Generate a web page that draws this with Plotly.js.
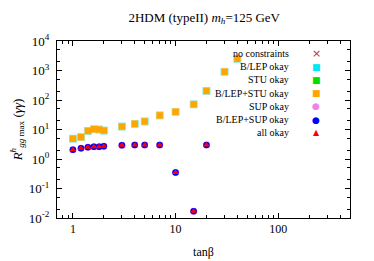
<!DOCTYPE html>
<html><head><meta charset="utf-8">
<script src="https://cdn.plot.ly/plotly-3.0.1.min.js"></script>
<style>body{margin:0;padding:0;background:#fff}#c{width:374px;height:261px}</style>
</head><body><div id="c"></div>
<script>
// tan(beta) values and maximal R (gg -> h -> gamma gamma)
const tanbFull = [1, 1.2, 1.4, 1.6, 1.8, 2, 3, 4, 5, 7, 10, 15, 20, 30, 40];
const rNoConstr = [4.9, 5.5, 9.0, 10.2, 10.0, 9.2, 12.6, 15.6, 18.7, 30, 40, 71, 204, 910, 2500];
const rBLEP = [4.9, 5.5, 9.0, 10.2, 10.0, 9.2, 12.6, 15.6, 18.7, 30, 40, 71, 204, 910, 2500];
const rSTU = [4.9, 5.5, 9.0, 10.2, 10.0, 9.2, 12.6, 15.6, 18.7, 30, 40, 71, 204, 910, 2500];
const rBLEPSTU = [4.9, 5.5, 9.0, 10.2, 10.0, 9.2, 12.6, 15.6, 18.7, 30, 40, 71, 204, 910, 2500];
const tanbSUP = [1, 1.2, 1.4, 1.6, 1.8, 2, 3, 4, 5, 7, 10, 15, 20];
const rSUP = [2.05, 2.3, 2.5, 2.6, 2.6, 2.7, 2.9, 3.0, 3.0, 3.0, 0.35, 0.017, 3.0];
const rBLEPSUP = [2.05, 2.3, 2.5, 2.6, 2.6, 2.7, 2.9, 3.0, 3.0, 3.0, 0.35, 0.017, 3.0];
const rAll = [2.05, 2.3, 2.5, 2.6, 2.6, 2.7, 2.9, 3.0, 3.0, 3.0, 0.35, 0.017, 3.0];
const legendNames = ["no constraints", "B/LEP okay", "STU okay", "B/LEP+STU okay", "SUP okay", "B/LEP+SUP okay", "all okay"];
const legendGlyphs = ["\u00d7", "\u25a0", "\u25a0", "\u25a0", "\u25cf", "\u25cf", "\u25b2"];
const colors = ["#c0303c", "#00e8f0", "#00e000", "#ffa500", "#ee82ee", "#0000ff", "#ff0000"];
const xTickVals = [1, 10, 100];
const xTickText = ["1", "10", "100"];
const yTickVals = [0.01, 0.1, 1, 10, 100, 1000, 10000];
const yTickText = ["10<sup>-2</sup>", "10<sup>-1</sup>", "10<sup>0</sup>", "10<sup>1</sup>", "10<sup>2</sup>", "10<sup>3</sup>", "10<sup>4</sup>"];

const mk = (x, y, sym, col, size, lw, lc) => ({
  type: 'scatter', mode: 'markers', x: x, y: y, showlegend: false, hoverinfo: 'skip',
  marker: {symbol: sym, color: col, size: size, line: {width: lw || 0, color: lc || col}}
});
const traces = [
  mk(tanbFull, rNoConstr, 'x-thin', colors[0], 6, 1.2, colors[0]),
  mk(tanbFull, rBLEP, 'square', colors[1], 7.5),
  mk(tanbFull, rSTU, 'square', '#d0e8b8', 7.5),
  mk(tanbFull, rBLEPSTU, 'square', colors[3], 6.5),
  mk(tanbSUP, rSUP, 'circle', colors[4], 7),
  mk(tanbSUP, rBLEPSUP, 'circle', colors[5], 6.5),
  mk(tanbSUP, rAll, 'triangle-up', colors[6], 6)
];

const serif = "Liberation Serif, Times New Roman, serif";
const ann = [];
const legTop = 53.3, legStep = 13.25;
legendNames.forEach((n, i) => {
  const yp = 1 - (legTop + i * legStep - 41) / 177;
  ann.push({xref: 'paper', yref: 'paper', x: (291 - 57) / 293, y: yp, xanchor: 'right', yanchor: 'middle',
    text: n, showarrow: false, font: {family: serif, size: 10, color: '#000'}});
  ann.push({xref: 'paper', yref: 'paper', x: (316 - 57) / 293, y: yp, xanchor: 'center', yanchor: 'middle',
    text: legendGlyphs[i], showarrow: false,
    font: {family: 'DejaVu Sans', size: legendGlyphs[i] === "\u25b2" ? 8 : (legendGlyphs[i] === "\u00d7" ? 11 : 9), color: colors[i]}});
});

const layout = {
  width: 374, height: 261,
  margin: {l: 57, r: 24, t: 41, b: 43},
  paper_bgcolor: '#fff', plot_bgcolor: '#fff',
  font: {family: serif, size: 12, color: '#000'},
  title: {text: "2HDM (typeII) <i>m<sub>h</sub></i>=125 GeV", x: 0.546, xanchor: 'center', y: 0.935, yanchor: 'middle',
    font: {family: serif, size: 13}},
  xaxis: {type: 'log', range: [Math.log10(0.7), Math.log10(500)], tickmode: 'array', tickvals: xTickVals, ticktext: xTickText,
    ticks: 'inside', ticklen: 5, tickcolor: '#000', showline: true, linecolor: '#000', linewidth: 1, mirror: 'allticks',
    showgrid: false, zeroline: false, tickfont: {family: serif, size: 12},
    minor: {ticks: 'inside', ticklen: 3, tickcolor: '#000', showgrid: false,
      tickvals: [0.7,0.8,0.9,2,3,4,5,6,7,8,9,20,30,40,50,60,70,80,90,200,300,400,500]},
    title: {text: "tan\u03b2", font: {family: serif, size: 12}, standoff: 12}},
  yaxis: {type: 'log', range: [-2, 4], tickmode: 'array', tickvals: yTickVals, ticktext: yTickText,
    ticks: 'inside', ticklen: 5, tickcolor: '#000', showline: true, linecolor: '#000', linewidth: 1, mirror: 'allticks',
    showgrid: false, zeroline: false, tickfont: {family: serif, size: 13}, ticklabelstandoff: 4,
    minor: {ticks: 'inside', ticklen: 3, tickcolor: '#000', showgrid: false,
      tickvals: [0.02,0.05,0.2,0.5,2,5,20,50,200,500,2000,5000]},
    title: {text: "<i>R</i><sup><i>h</i></sup><sub><i>gg</i> max</sub> (<i>\u03b3\u03b3</i>)", font: {family: serif, size: 13}, standoff: 3}},
  annotations: ann
};
Plotly.newPlot('c', traces, layout, {staticPlot: true, displayModeBar: false});
</script></body></html>
